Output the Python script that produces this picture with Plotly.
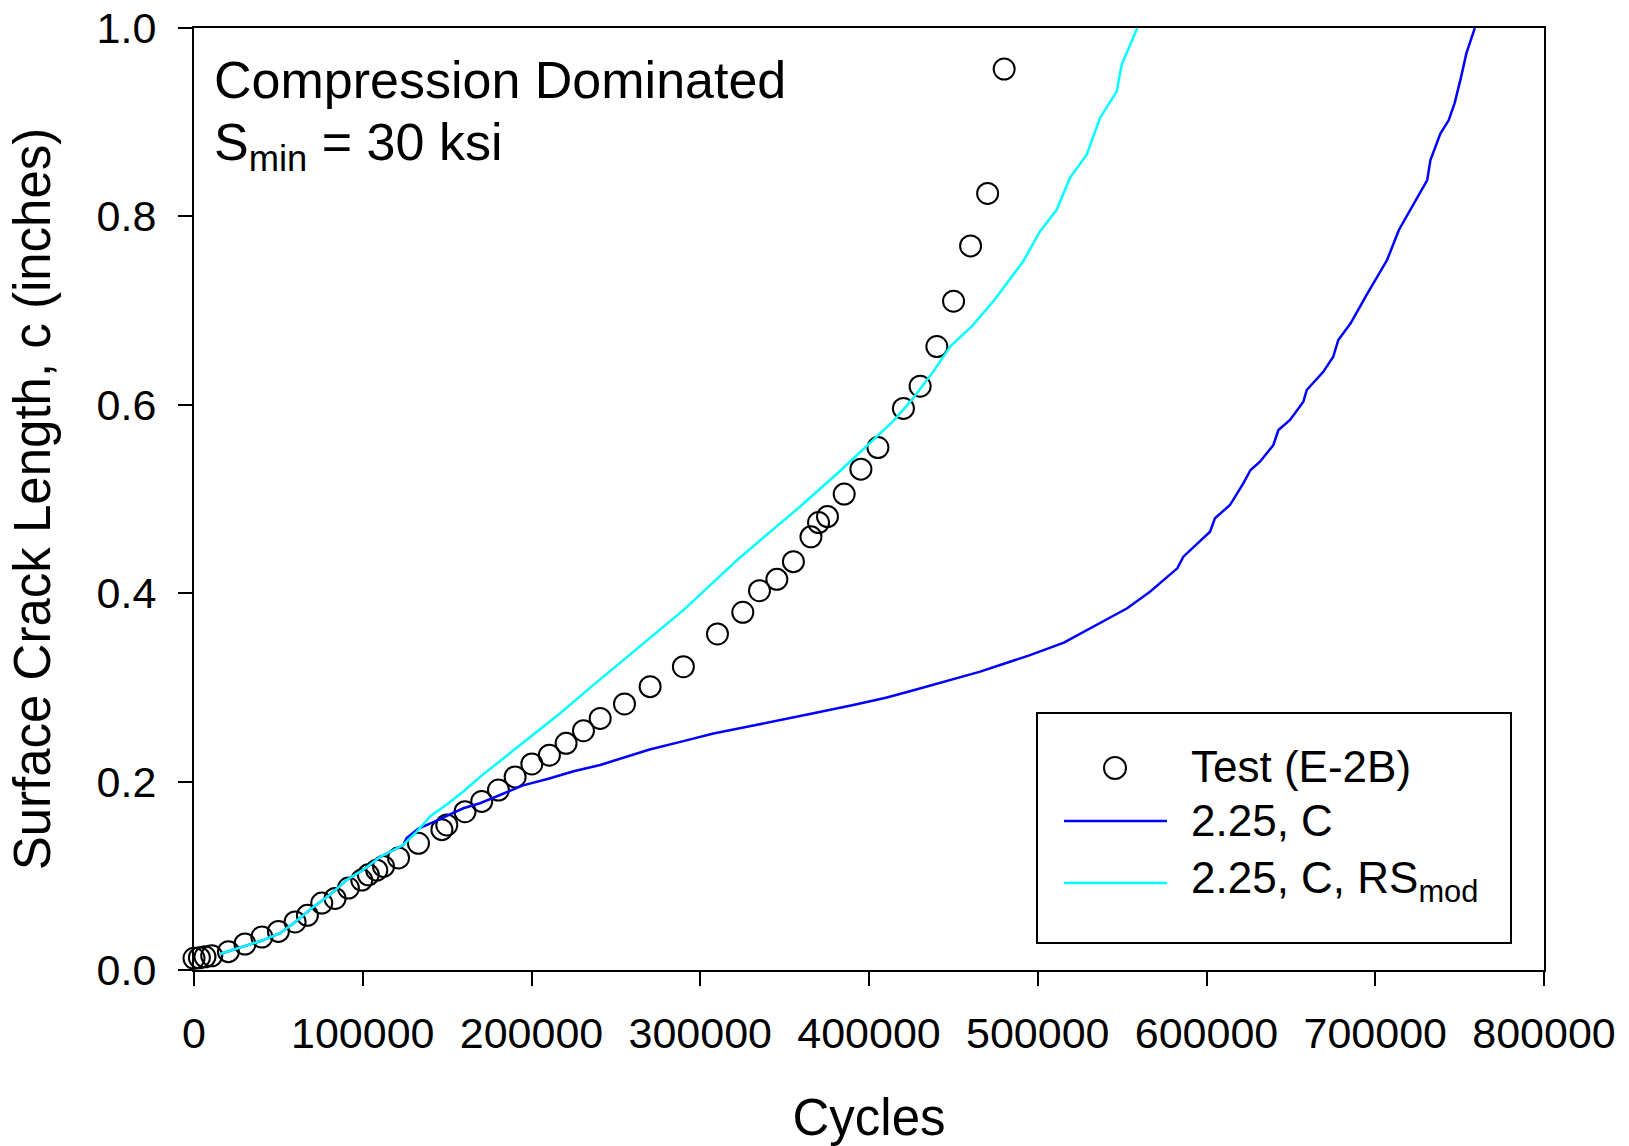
import plotly.graph_objects as go

# ---------------- data ----------------
test_x = [0, 3200, 6500, 10500, 20400, 30200, 40200, 50000, 59900, 67200, 75700,
          83600, 91500, 99400, 103300, 108300, 112300, 121200, 133000, 146900,
          149800, 160600, 170500, 180400, 190300, 200200, 210600, 220500, 230800,
          240700, 255100, 270300, 290000, 310200, 325200, 335100, 345400, 355200,
          365600, 370100, 375400, 385300, 395200, 405300, 420400, 430300, 440200,
          450100, 460200, 470300, 480100]
test_y = [0.0124, 0.013, 0.014, 0.015, 0.0195, 0.0276, 0.035, 0.041, 0.051, 0.058,
          0.071, 0.076, 0.087, 0.0955, 0.101, 0.106, 0.110, 0.119, 0.1345, 0.149,
          0.154, 0.168, 0.179, 0.191, 0.205, 0.2187, 0.228, 0.2406, 0.254, 0.267,
          0.2824, 0.3008, 0.322, 0.3567, 0.3797, 0.4027, 0.4147, 0.4335, 0.4598,
          0.475, 0.4813, 0.5052, 0.5317, 0.5546, 0.5962, 0.6197, 0.6618, 0.710,
          0.7687, 0.8244, 0.9564]

c_x = [15400, 30000, 40000, 51000, 60000, 70700, 80000, 90400, 100000, 110200,
       124000, 126000, 133000, 141800, 150000, 159600, 169500, 181500, 195000,
       210000, 225000, 240700, 255000, 270000, 290000, 307800, 330000, 350000,
       367100, 390000, 410000, 426400, 448200, 465900, 477700, 495000, 515500,
       531300, 553000, 566500, 582700, 586300, 602100, 605000, 613900, 621800,
       626100, 631700, 639600, 642600, 649500, 657400, 659400, 669200, 675100,
       678100, 682100, 685400, 695300, 707000, 714000, 722900, 730800, 732700,
       738600, 743500, 747000, 750600, 754000, 758200, 759000]
c_y = [0.017, 0.025, 0.031, 0.039, 0.051, 0.067, 0.079, 0.0955, 0.106, 0.120,
       0.1327, 0.140, 0.150, 0.157, 0.164, 0.1717, 0.177, 0.186, 0.196,
       0.203, 0.211, 0.2176, 0.226, 0.234, 0.243, 0.251, 0.259, 0.266,
       0.2725, 0.281, 0.289, 0.297, 0.3079, 0.3167, 0.3238, 0.334, 0.3475,
       0.3627, 0.384, 0.4016, 0.4264, 0.4388, 0.4653, 0.4795, 0.4936, 0.5166,
       0.5308, 0.5396, 0.5573, 0.5732, 0.5839, 0.6033, 0.6157, 0.635, 0.651,
       0.6688, 0.679, 0.6865, 0.718, 0.7537, 0.7856, 0.814, 0.8386, 0.8599,
       0.888, 0.902, 0.920, 0.946, 0.973, 0.9956, 1.0]

rs_x = [15400, 30000, 40000, 51000, 60000, 70700, 80000, 90400, 100000, 110200,
        124000, 132000, 139900, 150000, 160000, 169500, 190000, 217000, 235000,
        254500, 272000, 290000, 305000, 321700, 340000, 359200, 383000, 398700,
        414500, 425600, 438400, 448200, 460900, 473700, 491400, 501300, 511200,
        519100, 529000, 536900, 546800, 549700, 555700, 559000]
rs_y = [0.017, 0.025, 0.031, 0.039, 0.051, 0.067, 0.079, 0.0955, 0.106, 0.120,
        0.1327, 0.147, 0.163, 0.176, 0.190, 0.205, 0.234, 0.2725, 0.300,
        0.329, 0.356, 0.382, 0.407, 0.435, 0.463, 0.492, 0.530, 0.556,
        0.583, 0.6057, 0.636, 0.662, 0.6833, 0.7099, 0.7523, 0.784, 0.807,
        0.841, 0.8655, 0.9045, 0.9328, 0.961, 0.986, 1.0]

series_names = ["Test (E-2B)", "2.25, C", "2.25, C, RS<sub>mod</sub>"]
x_ticks = [0, 100000, 200000, 300000, 400000, 500000, 600000, 700000, 800000]
y_ticks = [0.0, 0.2, 0.4, 0.6, 0.8, 1.0]

BLUE = "rgb(0,0,255)"
CYAN = "rgb(0,255,255)"
FONT = "Arial, 'Liberation Sans', sans-serif"

# plot-area geometry in pixels (for converting paper coords of decorations)
W, H = 1629, 1146
L, R, T, B = 194, 85, 28, 176
PW, PH = W - L - R, H - T - B


def px(xp):
    return (xp - L) / PW


def py(yp):
    return 1 - (yp - T) / PH


fig = go.Figure()
fig.add_trace(go.Scatter(
    x=test_x, y=test_y, mode="markers", name=series_names[0],
    marker=dict(symbol="circle-open", size=21, color="black",
                line=dict(width=2, color="black")),
    cliponaxis=False, showlegend=False))
fig.add_trace(go.Scatter(
    x=c_x, y=c_y, mode="lines", name=series_names[1],
    line=dict(color=BLUE, width=2.5), showlegend=False))
fig.add_trace(go.Scatter(
    x=rs_x, y=rs_y, mode="lines", name=series_names[2],
    line=dict(color=CYAN, width=2.5), showlegend=False))

axis_common = dict(
    showgrid=False, zeroline=False, showline=True, linecolor="black",
    linewidth=2, mirror=True, ticks="outside", ticklen=14, tickwidth=2,
    tickcolor="black", tickfont=dict(family=FONT, size=43, color="black"),
)

fig.update_layout(
    width=W, height=H,
    margin=dict(l=L, r=R, t=T, b=B, autoexpand=False),
    paper_bgcolor="white", plot_bgcolor="white",
    font=dict(family=FONT, color="black"),
    xaxis=dict(range=[0, 800000], tickvals=x_ticks,
               ticktext=[str(v) for v in x_ticks], ticklabelstandoff=10,
               title=dict(text="Cycles", font=dict(family=FONT, size=51),
                          standoff=45),
               **axis_common),
    yaxis=dict(range=[0, 1.0], tickvals=y_ticks,
               ticktext=[f"{v:.1f}" for v in y_ticks], ticklabelstandoff=13,
               title=dict(text="Surface Crack Length, c (inches)",
                          font=dict(family=FONT, size=51), standoff=30),
               **axis_common),
)

# in-plot labels
fig.add_annotation(xref="paper", yref="paper", x=px(212), y=py(80),
                   xanchor="left", yanchor="middle", showarrow=False,
                   text="Compression Dominated",
                   font=dict(family=FONT, size=52, color="black"))
fig.add_annotation(xref="paper", yref="paper", x=px(212), y=py(146),
                   xanchor="left", yanchor="middle", showarrow=False,
                   text="S<sub>min</sub> = 30 ksi",
                   font=dict(family=FONT, size=52, color="black"))

# legend box (drawn manually to match the long line samples)
fig.add_shape(type="rect", xref="paper", yref="paper",
              x0=px(1037), x1=px(1511), y0=py(943), y1=py(713),
              line=dict(color="black", width=2), fillcolor="white", layer="above")
fig.add_shape(type="circle", xref="paper", yref="paper",
              xsizemode="pixel", ysizemode="pixel",
              xanchor=px(1115), yanchor=py(768), x0=-11, x1=11, y0=-11, y1=11,
              line=dict(color="black", width=2), layer="above")
fig.add_shape(type="line", xref="paper", yref="paper",
              x0=px(1064), x1=px(1167), y0=py(821), y1=py(821),
              line=dict(color=BLUE, width=2.5), layer="above")
fig.add_shape(type="line", xref="paper", yref="paper",
              x0=px(1064), x1=px(1167), y0=py(883), y1=py(883),
              line=dict(color=CYAN, width=2.5), layer="above")
for name, ymid in zip(series_names, [766, 820, 881]):
    fig.add_annotation(xref="paper", yref="paper", x=px(1189), y=py(ymid),
                       xanchor="left", yanchor="middle", showarrow=False,
                       text=name, font=dict(family=FONT, size=44, color="black"))

fig.write_html("out.html")
